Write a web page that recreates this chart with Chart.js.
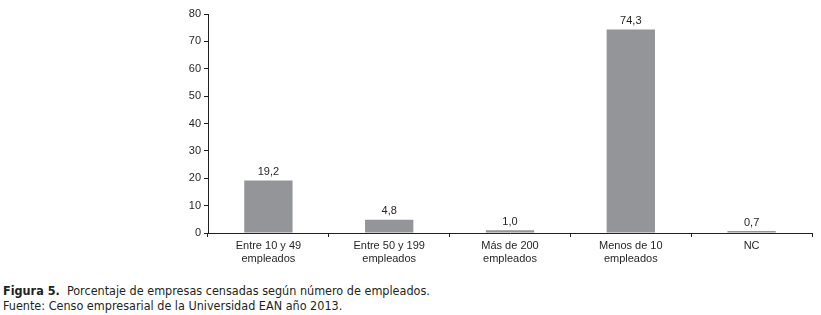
<!DOCTYPE html>
<html>
<head>
<meta charset="utf-8">
<script src="https://cdn.jsdelivr.net/npm/chart.js@4"></script>
<style>
  body { margin: 0; background: #fff; width: 821px; height: 315px; overflow: hidden; }
  #wrap { position: absolute; left: 0; top: 0; width: 821px; height: 275px; }
  .caption { position: absolute; left: 3px; top: 283px; font-family: "DejaVu Sans Condensed", "Open Sans", sans-serif; font-size: 12.5px; line-height: 15px; color: #231f20; }
  .caption b { font-weight: bold; }
</style>
</head>
<body>
<div id="wrap"><canvas id="chart" width="821" height="275"></canvas></div>
<div class="caption">
  <div><b>Figura 5.</b>&nbsp; Porcentaje de empresas censadas según número de empleados.</div>
  <div>Fuente: Censo empresarial de la Universidad EAN año 2013.</div>
</div>
<script>
const categories = [
    ['Entre 10 y 49', 'empleados'],
    ['Entre 50 y 199', 'empleados'],
    ['Más de 200', 'empleados'],
    ['Menos de 10', 'empleados'],
    'NC'
];
const percentages = [19.2, 4.8, 1.0, 74.3, 0.7];
const yTicks = [0, 10, 20, 30, 40, 50, 60, 70, 80];

// Value labels above each bar, decimal comma
const valueLabels = {
    id: 'valueLabels',
    afterDatasetsDraw(chart) {
        const ctx = chart.ctx;
        const meta = chart.getDatasetMeta(0);
        ctx.save();
        ctx.font = '11px "Liberation Sans", Arial, sans-serif';
        ctx.fillStyle = '#231f20';
        ctx.textAlign = 'center';
        ctx.textBaseline = 'bottom';
        meta.data.forEach((bar, i) => {
            ctx.fillText(percentages[i].toFixed(1).replace('.', ','), bar.x, bar.y - 3);
        });
        ctx.restore();
    }
};

const ctx = document.getElementById('chart').getContext('2d');
new Chart(ctx, {
    type: 'bar',
    data: {
        labels: categories,
        datasets: [{
            data: percentages,
            backgroundColor: '#949598',
            borderWidth: 0,
            categoryPercentage: 1,
            barPercentage: 0.4
        }]
    },
    options: {
        responsive: false,
        animation: false,
        layout: { padding: { top: 14, right: 9, left: 0, bottom: 0 } },
        plugins: {
            legend: { display: false },
            tooltip: { enabled: false }
        },
        scales: {
            x: {
                grid: { drawOnChartArea: false, drawTicks: true, tickLength: 4, color: '#231f20', offset: true },
                border: { display: true, color: '#231f20', width: 1 },
                ticks: {
                    color: '#231f20',
                    font: { family: '"Liberation Sans", Arial, sans-serif', size: 11 },
                    padding: 2,
                    maxRotation: 0,
                    autoSkip: false
                },
                afterFit(scale) { scale.height = 42; }
            },
            y: {
                min: 0,
                max: 80,
                afterBuildTicks(scale) { scale.ticks = yTicks.map(v => ({ value: v })); },
                grid: { drawOnChartArea: false, drawTicks: true, tickLength: 4, color: '#231f20' },
                border: { display: true, color: '#231f20', width: 1 },
                ticks: {
                    color: '#231f20',
                    font: { family: '"Liberation Sans", Arial, sans-serif', size: 11 },
                    padding: 3
                },
                afterFit(scale) { scale.width = 208; }
            }
        }
    },
    plugins: [valueLabels]
});
</script>
</body>
</html>
